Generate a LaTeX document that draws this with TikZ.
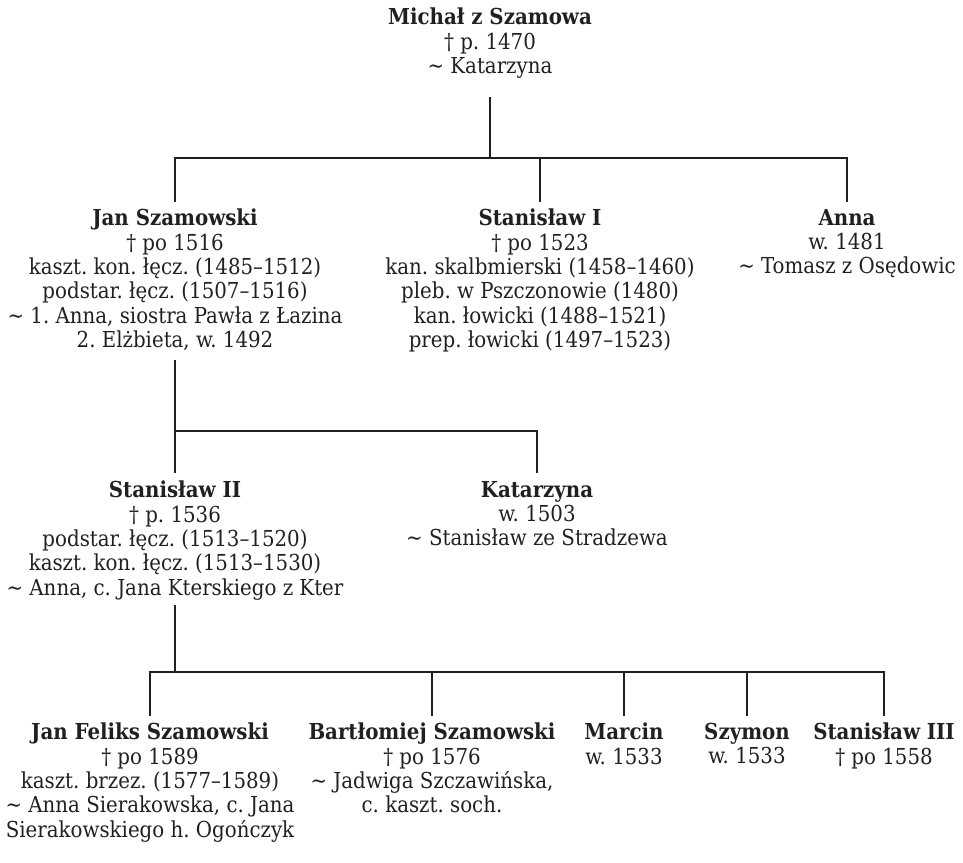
\documentclass[tikz,border=0pt]{standalone}
\usepackage{fontspec}
\setmainfont{DejaVu Serif Condensed}
\definecolor{ink}{HTML}{231F20}
\newcommand{\spouse}{\textasciitilde\ }
\begin{document}
\frenchspacing
\begin{tikzpicture}[x=1pt,y=-1pt,
  person/.style={align=center, inner sep=0pt, anchor=north, text=ink,
                 font=\frenchspacing\fontsize{22}{24.3}\selectfont},
  link/.style={draw=ink, line width=2.8pt, line join=miter}]
\useasboundingbox (0,0) rectangle (963,862);

% generation 1
\node[person] (michal) at (490,8) {\textbf{Michał z Szamowa}\\† p. 1470\\\spouse Katarzyna};

% generation 2
\node[person] (jan) at (175,209) {\textbf{Jan Szamowski}\\† po 1516\\kaszt. kon. łęcz. (1485–1512)\\podstar. łęcz. (1507–1516)\\\spouse 1. Anna, siostra Pawła z Łazina\\2. Elżbieta, w. 1492};
\node[person] (stan1) at (540,209) {\textbf{Stanisław I}\\† po 1523\\kan. skalbmierski (1458–1460)\\pleb. w Pszczonowie (1480)\\kan. łowicki (1488–1521)\\prep. łowicki (1497–1523)};
\node[person] (anna) at (847,209) {\textbf{Anna}\\w. 1481\\\spouse Tomasz z Osędowic};

% generation 3
\node[person] (stan2) at (175,481) {\textbf{Stanisław II}\\† p. 1536\\podstar. łęcz. (1513–1520)\\kaszt. kon. łęcz. (1513–1530)\\\spouse Anna, c. Jana Kterskiego z Kter};
\node[person] (kat) at (537,481) {\textbf{Katarzyna}\\w. 1503\\\spouse Stanisław ze Stradzewa};

% generation 4
\node[person] (jf) at (150,723) {\textbf{Jan Feliks Szamowski}\\† po 1589\\kaszt. brzez. (1577–1589)\\\spouse Anna Sierakowska, c. Jana\\Sierakowskiego h. Ogończyk};
\node[person] (bart) at (432,723) {\textbf{Bartłomiej Szamowski}\\† po 1576\\\spouse Jadwiga Szczawińska,\\c. kaszt. soch.};
\node[person] (marcin) at (624,723) {\textbf{Marcin}\\w. 1533};
\node[person] (szymon) at (747,723) {\textbf{Szymon}\\w. 1533};
\node[person] (stan3) at (884,723) {\textbf{Stanisław III}\\† po 1558};

% line levels
\coordinate (top1) at (0,97);
\coordinate (bar1) at (0,158);
\coordinate (kid1) at (0,202);
\coordinate (top2) at (0,360);
\coordinate (bar2) at (0,431);
\coordinate (kid2) at (0,473);
\coordinate (top3) at (0,605);
\coordinate (bar3) at (0,672);
\coordinate (kid3) at (0,716);

% connectors
\draw[link] (michal.south |- top1) -- (michal.south |- bar1);
\draw[link] (jan.north |- kid1) |- (anna.north |- bar1) -- (anna.north |- kid1);
\draw[link] (stan1.north |- bar1) -- (stan1.north |- kid1);

\draw[link] (jan.south |- top2) -- (stan2.north |- kid2);
\draw[link] (jan.south |- bar2) -| (kat.north |- kid2);

\draw[link] (stan2.south |- top3) -- (stan2.south |- bar3);
\draw[link] (jf.north |- kid3) |- (stan3.north |- bar3) -- (stan3.north |- kid3);
\draw[link] (bart.north |- bar3) -- (bart.north |- kid3);
\draw[link] (marcin.north |- bar3) -- (marcin.north |- kid3);
\draw[link] (szymon.north |- bar3) -- (szymon.north |- kid3);
\end{tikzpicture}
\end{document}
